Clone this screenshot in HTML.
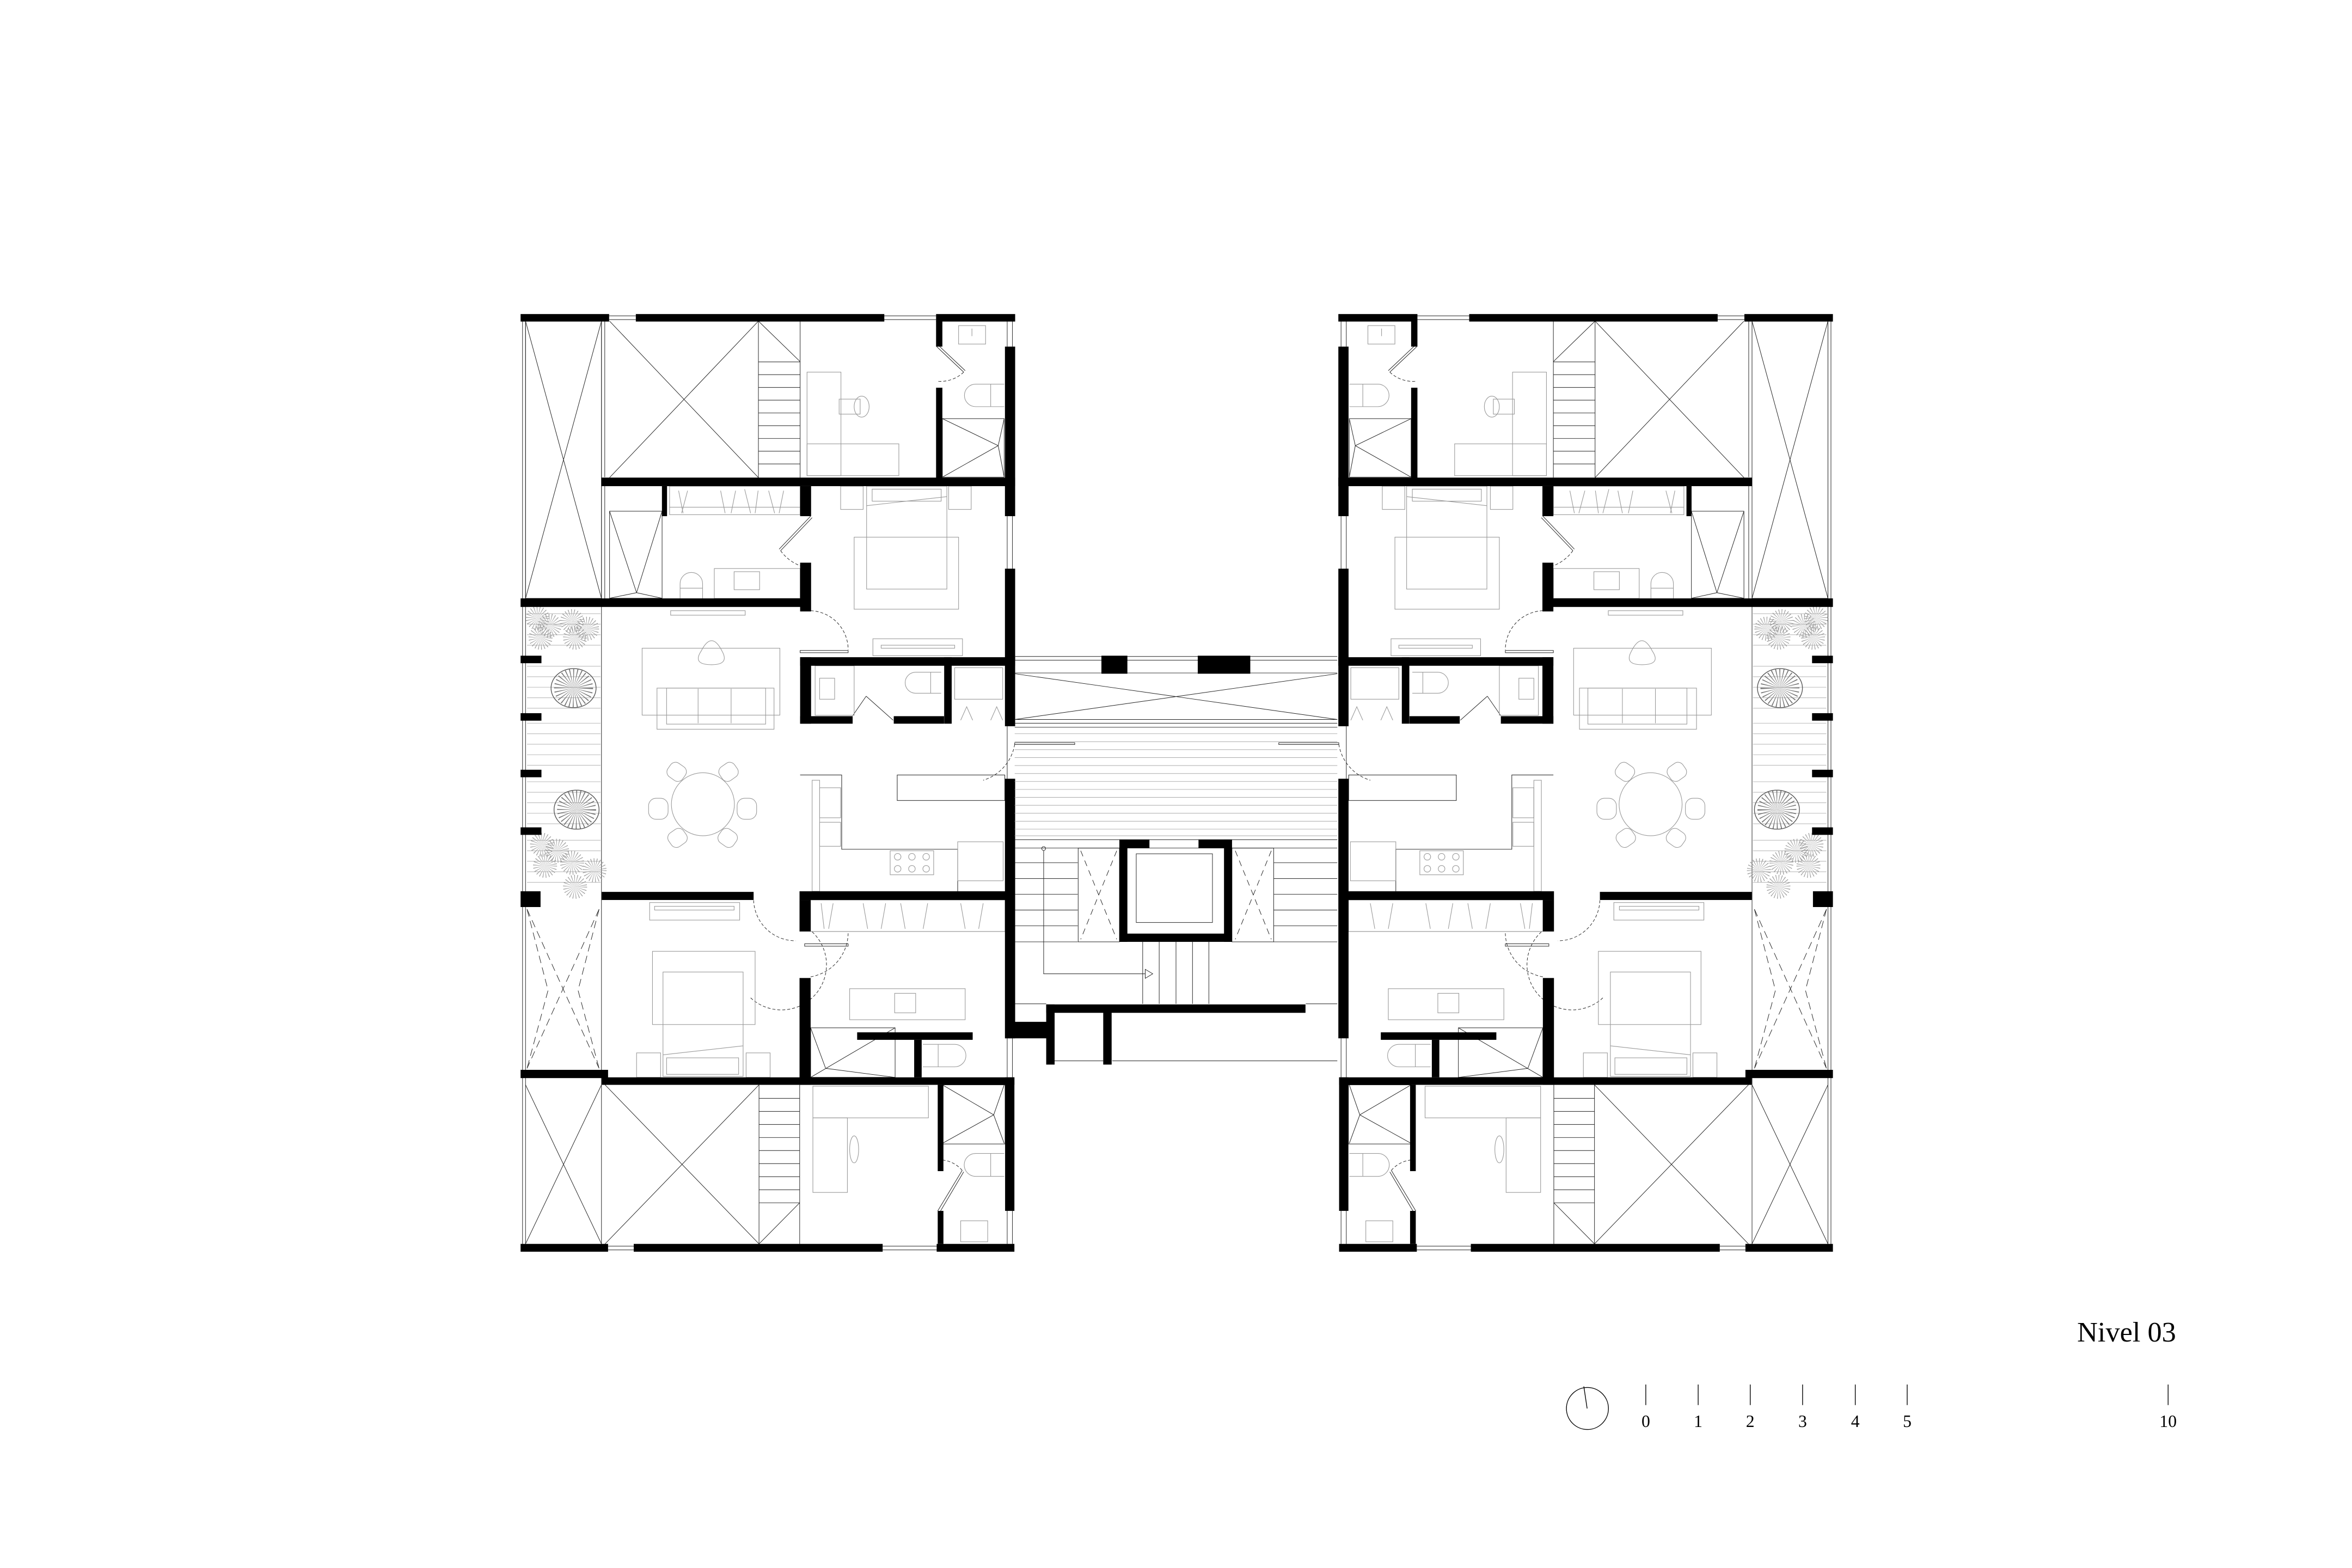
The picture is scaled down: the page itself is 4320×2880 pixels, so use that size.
<!DOCTYPE html>
<html><head><meta charset="utf-8"><style>
html,body{margin:0;padding:0;background:#fff;}
svg{display:block;}
</style></head><body>
<svg xmlns="http://www.w3.org/2000/svg" xmlns:xlink="http://www.w3.org/1999/xlink" width="4320" height="2880" viewBox="0 0 1567 1045">
<defs>
<g id="L">
<g stroke="#222" stroke-width="0.35" fill="none">
<line x1="405.7" y1="210.5" x2="423.5" y2="210.5"/><line x1="405.7" y1="213" x2="423.5" y2="213"/>
<line x1="589" y1="210.5" x2="623.6" y2="210.5"/><line x1="589" y1="213" x2="623.6" y2="213"/>
<line x1="405" y1="830.5" x2="422.1" y2="830.5"/><line x1="405" y1="833" x2="422.1" y2="833"/>
<line x1="588" y1="830.5" x2="624" y2="830.5"/><line x1="588" y1="833" x2="624" y2="833"/>
<line x1="671" y1="214" x2="671" y2="231"/><line x1="674.5" y1="214" x2="674.5" y2="231"/>
<line x1="671" y1="344" x2="671" y2="379"/><line x1="674.5" y1="344" x2="674.5" y2="379"/>
<line x1="671" y1="692" x2="671" y2="718"/><line x1="674.5" y1="692" x2="674.5" y2="718"/>
<line x1="671" y1="807" x2="671" y2="829"/><line x1="674.5" y1="807" x2="674.5" y2="829"/>
<line x1="348" y1="214" x2="348" y2="829"/><line x1="350" y1="214" x2="350" y2="829"/>
<line x1="400.6" y1="214" x2="400.6" y2="829"/><line x1="402.8" y1="214" x2="402.8" y2="318"/><line x1="402.8" y1="324" x2="402.8" y2="399"/>
<line x1="671" y1="484" x2="671" y2="519"/>
<rect x="350" y="214" width="50.6" height="184.8"/>
<line x1="350" y1="214" x2="400.6" y2="398.8"/><line x1="400.6" y1="214" x2="350" y2="398.8"/>
<line x1="406" y1="214" x2="505.2" y2="318.3"/><line x1="505.2" y1="214" x2="406" y2="318.3"/>
<line x1="350" y1="723" x2="400.6" y2="829"/><line x1="400.6" y1="723" x2="350" y2="829"/>
<line x1="403" y1="723" x2="505.6" y2="829"/><line x1="505.6" y1="723" x2="403" y2="829"/>
<line x1="505.2" y1="214" x2="505.2" y2="318.3"/><line x1="533" y1="214" x2="533" y2="318.3"/>
<line x1="505.2" y1="214" x2="533" y2="241"/>
<line x1="505.2" y1="241.2" x2="533" y2="241.2"/><line x1="505.2" y1="249.7" x2="533" y2="249.7"/><line x1="505.2" y1="258.2" x2="533" y2="258.2"/><line x1="505.2" y1="266.7" x2="533" y2="266.7"/><line x1="505.2" y1="275.2" x2="533" y2="275.2"/><line x1="505.2" y1="283.7" x2="533" y2="283.7"/><line x1="505.2" y1="292.2" x2="533" y2="292.2"/><line x1="505.2" y1="300.7" x2="533" y2="300.7"/><line x1="505.2" y1="309.2" x2="533" y2="309.2"/>
<line x1="505.6" y1="723" x2="505.6" y2="829"/><line x1="532.7" y1="723" x2="532.7" y2="829"/>
<line x1="505.6" y1="829" x2="532.7" y2="801.6"/>
<line x1="505.6" y1="732" x2="532.7" y2="732"/><line x1="505.6" y1="740.7" x2="532.7" y2="740.7"/><line x1="505.6" y1="749.4" x2="532.7" y2="749.4"/><line x1="505.6" y1="758.1" x2="532.7" y2="758.1"/><line x1="505.6" y1="766.8" x2="532.7" y2="766.8"/><line x1="505.6" y1="775.5" x2="532.7" y2="775.5"/><line x1="505.6" y1="784.2" x2="532.7" y2="784.2"/><line x1="505.6" y1="792.9" x2="532.7" y2="792.9"/><line x1="505.6" y1="801.6" x2="532.7" y2="801.6"/>
<rect x="627.8" y="279" width="41.2" height="39"/><line x1="627.8" y1="318" x2="665" y2="297"/><line x1="669" y1="279" x2="665" y2="297"/><line x1="669" y1="318" x2="665" y2="297"/><line x1="627.8" y1="279" x2="665" y2="297"/>
<rect x="406" y="340.7" width="35" height="58"/><line x1="406" y1="340.7" x2="424" y2="395"/><line x1="441" y1="340.7" x2="424" y2="395"/><line x1="406" y1="398.7" x2="424" y2="395"/><line x1="441" y1="398.7" x2="424" y2="395"/>
<rect x="540" y="685" width="56.3" height="33"/><line x1="540" y1="718" x2="596.3" y2="685"/><line x1="540" y1="685" x2="550" y2="712"/><line x1="550" y1="712" x2="596" y2="718"/>
<rect x="627.8" y="723" width="41.8" height="39.4"/><line x1="627.8" y1="762" x2="662" y2="743"/><line x1="669" y1="723" x2="662" y2="743"/><line x1="669" y1="762" x2="662" y2="743"/><line x1="627.8" y1="723" x2="662" y2="743"/>
<line x1="624" y1="231" x2="642" y2="248"/><line x1="625" y1="230" x2="643" y2="247"/>
<line x1="540" y1="344" x2="519" y2="366"/><line x1="541" y1="345" x2="520" y2="367"/>
<line x1="568" y1="477" x2="577" y2="464"/><line x1="595" y1="480" x2="577" y2="464"/>
<line x1="624.7" y1="807" x2="641" y2="780"/><line x1="626" y1="808" x2="642" y2="781"/>
<rect x="536" y="629" width="29" height="1.6"/>
<rect x="533" y="433.5" width="32" height="1.5"/>
<rect x="676" y="495" width="40" height="1.2"/>
</g>
<g stroke="#222" stroke-width="0.35" fill="none" stroke-dasharray="2 1.3">
<path d="M540 407 A26 26 0 0 1 565 433"/>
<path d="M541 621 A30 30 0 0 1 500 665"/>
<path d="M502 600 A28 28 0 0 0 530 627"/>
<path d="M540 651 A30 30 0 0 0 565 622"/>
<path d="M642 248 A22 22 0 0 1 624 254"/>
<path d="M520 367 A28 28 0 0 0 533 377"/>
<path d="M676 496 A30 30 0 0 1 655 520"/>
<path d="M641 780 A20 20 0 0 0 626 773"/>
<path d="M351 606 L365 660 L351 712 M399 606 L385 660 L399 712" stroke-dasharray="5 3"/>
<line x1="351" y1="606" x2="399" y2="712" stroke-dasharray="5 3"/><line x1="399" y1="606" x2="351" y2="712" stroke-dasharray="5 3"/>
</g>
<g stroke="#9a9a9a" stroke-width="0.4" fill="none">
<rect x="537.6" y="248" width="22.6" height="69"/><rect x="537.6" y="295.8" width="61.2" height="21.2"/>
<ellipse cx="574" cy="271" rx="5" ry="7"/><rect x="559" y="266" width="14" height="10"/>
<rect x="638.6" y="217" width="18" height="12.3"/><line x1="647.5" y1="219" x2="647.5" y2="224"/>
<path d="M669 256 H650 A7.5 7.5 0 0 0 650 271 H669"/><line x1="660" y1="256" x2="660" y2="271"/>
<rect x="577.3" y="324" width="53.5" height="68.6"/><rect x="581" y="326" width="46" height="8"/><line x1="577.3" y1="337" x2="630.8" y2="331"/>
<rect x="569" y="358" width="69.6" height="48"/>
<rect x="560" y="324" width="15" height="15.5"/><rect x="632" y="324" width="15" height="15.5"/>
<rect x="581.5" y="425.7" width="59.7" height="11.3"/><rect x="587" y="430" width="49" height="2"/>
<rect x="446.7" y="407" width="49.7" height="3"/>
<rect x="446" y="324" width="87" height="19"/><line x1="446" y1="338" x2="533" y2="338"/>
<path d="M452 327 L455 342 M458 327 L454 342 M480 327 L483 342 M490 327 L487 342 M496 326 L500 342 M505 327 L503 342 M512 327 L516 342 M522 327 L519 342"/>
<path d="M453 399 V389 A7.5 7.5 0 0 1 468 389 V399"/><line x1="453" y1="392" x2="468" y2="392"/>
<rect x="475.8" y="378.9" width="57.2" height="19.9"/><rect x="489" y="381" width="17" height="12"/>
<rect x="427.7" y="432" width="91.8" height="44.6"/>
<rect x="437.6" y="458.6" width="78" height="27.4"/><rect x="444" y="458.6" width="66" height="24"/><line x1="465" y1="459" x2="465" y2="482"/><line x1="487" y1="459" x2="487" y2="482"/>
<path d="M467 434 Q474 420 481 434 Q486 443 474 443 Q461 443 467 434Z"/>
<circle cx="468.2" cy="536" r="21"/>
<rect x="432" y="532" width="13" height="14" rx="5"/><rect x="491" y="532" width="13" height="14" rx="5"/>
<rect x="445" y="509" width="12" height="11" rx="4" transform="rotate(35 451 514)"/><rect x="479" y="509" width="12" height="11" rx="4" transform="rotate(-35 485 514)"/>
<rect x="445" y="553" width="12" height="11" rx="4" transform="rotate(-35 451 558)"/><rect x="479" y="553" width="12" height="11" rx="4" transform="rotate(35 485 558)"/>
<rect x="541" y="520" width="5" height="74"/><rect x="546" y="525" width="14" height="20"/><rect x="546" y="548" width="14" height="16"/>
<rect x="597.7" y="516.5" width="71.7" height="17" stroke="#333"/>
<path d="M533 516.5 H560.7 V566 H638 V594" stroke="#333"/>
<rect x="638" y="561" width="30.3" height="26"/>
<rect x="593" y="567" width="29" height="16"/>
<circle cx="598" cy="571" r="2.2"/><circle cx="607.5" cy="571" r="2.2"/><circle cx="617" cy="571" r="2.2"/><circle cx="598" cy="579" r="2.2"/><circle cx="607.5" cy="579" r="2.2"/><circle cx="617" cy="579" r="2.2"/>
<rect x="543" y="443.7" width="26" height="33"/><rect x="546" y="452" width="10" height="14"/>
<path d="M627 448 H610 A7 7 0 0 0 610 462 H627"/><line x1="620" y1="448" x2="620" y2="462"/>
<rect x="636" y="445" width="32" height="21"/>
<path d="M640 480 L644 471 L648 480 M660 480 L664 471 L668 480"/>
<rect x="432.7" y="601.5" width="60" height="11.7"/><rect x="436" y="604" width="53" height="2.5"/>
<rect x="434.6" y="634" width="68.4" height="48.8"/><rect x="441.6" y="647.8" width="53.4" height="69.6"/><rect x="444" y="705" width="48" height="11"/><line x1="441.6" y1="703" x2="495" y2="697"/>
<rect x="424" y="701.7" width="16" height="16.3"/><rect x="497" y="701.7" width="16" height="16.3"/>
<rect x="540" y="599.8" width="129.6" height="21"/><line x1="540" y1="620.8" x2="669.6" y2="620.8"/>
<path d="M547 602 L549 619 M555 602 L552 619 M575 602 L578 619 M590 602 L587 619 M600 602 L603 619 M618 602 L615 619 M640 602 L643 619 M655 602 L652 619"/>
<rect x="566" y="658.9" width="77" height="20.7"/><rect x="596" y="662" width="14" height="13"/>
<path d="M614.8 696 H636 A7.5 7.5 0 0 1 636 711 H614.8"/><line x1="625" y1="696" x2="625" y2="711"/>
<rect x="541.5" y="723.9" width="77" height="21.1"/><rect x="541.5" y="745" width="23" height="49.7"/>
<ellipse cx="569" cy="766" rx="3" ry="9"/>
<path d="M669 768.7 H650 A7.5 7.5 0 0 0 650 784 H669"/><line x1="660" y1="768.7" x2="660" y2="784"/>
<rect x="640" y="813.6" width="18" height="14"/>
</g>
<g stroke="#bbb" stroke-width="0.4">
<line x1="351" y1="409" x2="400" y2="409"/><line x1="351" y1="416" x2="400" y2="416"/><line x1="351" y1="423" x2="400" y2="423"/><line x1="351" y1="430" x2="400" y2="430"/><line x1="351" y1="444" x2="400" y2="444"/><line x1="351" y1="451" x2="400" y2="451"/><line x1="351" y1="458" x2="400" y2="458"/><line x1="351" y1="465" x2="400" y2="465"/><line x1="351" y1="472" x2="400" y2="472"/><line x1="351" y1="482" x2="400" y2="482"/><line x1="351" y1="489" x2="400" y2="489"/><line x1="351" y1="496" x2="400" y2="496"/><line x1="351" y1="503" x2="400" y2="503"/><line x1="351" y1="510" x2="400" y2="510"/><line x1="351" y1="521" x2="400" y2="521"/><line x1="351" y1="528" x2="400" y2="528"/><line x1="351" y1="535" x2="400" y2="535"/><line x1="351" y1="542" x2="400" y2="542"/><line x1="351" y1="549" x2="400" y2="549"/><line x1="351" y1="560" x2="400" y2="560"/><line x1="351" y1="567" x2="400" y2="567"/><line x1="351" y1="574" x2="400" y2="574"/><line x1="351" y1="581" x2="400" y2="581"/><line x1="351" y1="588" x2="400" y2="588"/>
</g>
<g fill="none" stroke="#555">
<ellipse cx="382" cy="458.6" rx="15" ry="13" stroke-width="0.5"/>
<circle cx="382" cy="458.6" r="6.5" stroke-width="13" stroke-dasharray="0.35 1.1" stroke="#777"/>
<ellipse cx="384" cy="539.6" rx="15" ry="13" stroke-width="0.5"/>
<circle cx="384" cy="539.6" r="6.5" stroke-width="13" stroke-dasharray="0.35 1.1" stroke="#777"/>
</g>
<g fill="none" stroke="#999" stroke-width="8" stroke-dasharray="0.25 0.9">
<circle cx="358" cy="412" r="4"/><circle cx="366" cy="417" r="4"/><circle cx="360" cy="425" r="4"/><circle cx="381" cy="414" r="4"/><circle cx="391" cy="419" r="4"/><circle cx="383" cy="425" r="4"/>
<circle cx="361" cy="563" r="4"/><circle cx="371" cy="567" r="4"/><circle cx="363" cy="577" r="4"/><circle cx="381" cy="575" r="4"/><circle cx="396" cy="580" r="4"/><circle cx="383" cy="591" r="4"/>
</g>
<g fill="#000">
<rect x="346.7" y="209.3" width="59" height="5"/><rect x="423.5" y="209.3" width="165.6" height="5"/><rect x="623.6" y="209.3" width="52.7" height="5"/>
<rect x="623.6" y="214" width="4.2" height="17"/><rect x="623.6" y="258.4" width="4.2" height="61"/>
<rect x="669.5" y="231" width="6.8" height="113"/><rect x="669.5" y="379" width="6.8" height="105"/><rect x="669.5" y="519" width="6.8" height="173"/>
<rect x="400.6" y="318.3" width="275.7" height="5.7"/>
<rect x="440.9" y="324" width="3.4" height="20"/><rect x="533" y="324" width="7.3" height="20"/><rect x="533" y="375" width="7.3" height="32.5"/>
<rect x="346.7" y="398.8" width="193.3" height="5.7"/>
<rect x="533" y="438" width="143.3" height="5.7"/><rect x="533" y="438" width="7.3" height="44.3"/><rect x="533" y="477.3" width="35" height="5"/><rect x="595.4" y="477.3" width="33.5" height="5"/><rect x="629" y="438" width="5" height="44.3"/>
<rect x="346.7" y="437" width="13.9" height="5"/><rect x="346.7" y="475.3" width="13.9" height="5"/><rect x="346.7" y="513" width="13.9" height="5"/><rect x="346.7" y="551.4" width="13.9" height="5"/><rect x="346.7" y="594" width="13.3" height="10.5"/>
<rect x="400.8" y="594.4" width="101.2" height="5.4"/><rect x="532.6" y="594" width="143.2" height="5.8"/>
<rect x="532.6" y="599.8" width="7.4" height="21"/><rect x="532.6" y="651.8" width="7.4" height="71.2"/>
<rect x="571" y="688" width="77" height="5"/><rect x="609" y="693" width="5" height="25"/>
<rect x="400.8" y="718" width="275" height="5"/><rect x="346.7" y="713" width="58.3" height="5.5"/>
<rect x="624.7" y="723" width="3.8" height="57.5"/><rect x="624.7" y="807" width="3.8" height="22"/><rect x="669.6" y="718" width="6.2" height="89"/>
<rect x="346.7" y="829" width="58.3" height="5.2"/><rect x="422.1" y="829" width="165.9" height="5.2"/><rect x="624" y="829" width="51.8" height="5.2"/>
</g>
</g>
</defs>
<rect width="1567" height="1045" fill="#fff"/>
<use xlink:href="#L"/>
<use xlink:href="#L" transform="matrix(-1 0 0 1 1568 0)"/>
<g stroke="#222" stroke-width="0.35" fill="none">
<line x1="676" y1="437.5" x2="891" y2="437.5"/><line x1="676" y1="440" x2="891" y2="440"/><line x1="676" y1="448.5" x2="891" y2="448.5"/>
<line x1="676" y1="449" x2="891" y2="479.5"/><line x1="891" y1="449" x2="676" y2="479.5"/>
<line x1="676" y1="479.5" x2="891" y2="479.5"/><line x1="676" y1="482" x2="891" y2="482"/><line x1="676" y1="484.7" x2="891" y2="484.7"/>
<line x1="676" y1="559.6" x2="891" y2="559.6"/><line x1="676" y1="565.2" x2="891" y2="565.2"/>
<rect x="718.3" y="565.2" width="27.5" height="62.5"/><rect x="820.8" y="565.2" width="27.8" height="62.5"/>
<rect x="757" y="569" width="50.8" height="45.8"/>
<g stroke-dasharray="4 3"><line x1="720" y1="567" x2="744" y2="626"/><line x1="744" y1="567" x2="720" y2="626"/><line x1="823" y1="567" x2="847" y2="626"/><line x1="847" y1="567" x2="823" y2="626"/></g>
<path d="M676 575 H718 M676 585.5 H718 M676 596 H718 M676 606.5 H718 M676 617 H718 M676 627.7 H718 M848.6 575 H891 M848.6 585.5 H891 M848.6 596 H891 M848.6 606.5 H891 M848.6 617 H891 M848.6 627.7 H891"/>
<circle cx="695.3" cy="565.5" r="1.3"/><path d="M695.3 567 V649 H763"/><path d="M763 646 L768 649 L763 652Z"/>
<path d="M761.3 627.7 V669 M772.3 627.7 V669 M783.5 627.7 V669 M794.5 627.7 V669 M805.4 627.7 V669"/>
<line x1="676" y1="669" x2="697" y2="669"/><line x1="870" y1="669" x2="891" y2="669"/>
<line x1="702" y1="707" x2="735" y2="707"/><line x1="741" y1="707" x2="891" y2="707"/>
</g>
<g stroke="#aaa" stroke-width="0.35">
<path d="M676 489 H891 M676 494.3 H891 M676 499.6 H891 M676 504.9 H891 M676 510.2 H891 M676 515.5 H891 M676 520.8 H891 M676 526.1 H891 M676 531.4 H891 M676 536.7 H891 M676 542 H891 M676 547.3 H891 M676 552.6 H891 M676 557 H891"/>
</g>
<g fill="#000">
<rect x="733.8" y="437" width="17.3" height="12"/><rect x="798" y="437" width="35" height="12"/>
<rect x="745.8" y="559.6" width="20" height="5.6"/><rect x="798.5" y="559.6" width="22.3" height="5.6"/>
<rect x="745.8" y="559.6" width="5.3" height="68.1"/><rect x="815.5" y="559.6" width="5.3" height="68.1"/><rect x="745.8" y="622.2" width="75" height="5.5"/>
<rect x="669.6" y="681" width="28" height="11"/><rect x="697" y="669.4" width="5.6" height="40.1"/><rect x="697" y="669.4" width="172.8" height="5.6"/><rect x="735" y="674" width="5.6" height="35.5"/>
</g>
<text x="1450" y="894" text-anchor="end" font-family="Liberation Serif, serif" font-size="19" fill="#000">Nivel 03</text>
<g stroke="#000" stroke-width="0.5" fill="none">
<circle cx="1057.7" cy="938.7" r="14"/><line x1="1055.3" y1="924" x2="1057.5" y2="938.7"/>
<path d="M1096.6 922.7 V936.4 M1131.5 922.7 V936.4 M1166.2 922.7 V936.4 M1201.1 922.7 V936.4 M1236.2 922.7 V936.4 M1270.8 922.7 V936.4 M1444.7 922.7 V936.4"/>
</g>
<g font-family="Liberation Serif, serif" font-size="11.5" fill="#000" text-anchor="middle">
<text x="1096.6" y="951">0</text><text x="1131.5" y="951">1</text><text x="1166.2" y="951">2</text><text x="1201.1" y="951">3</text><text x="1236.2" y="951">4</text><text x="1270.8" y="951">5</text><text x="1444.7" y="951">10</text>
</g>
</svg>
</body></html>
